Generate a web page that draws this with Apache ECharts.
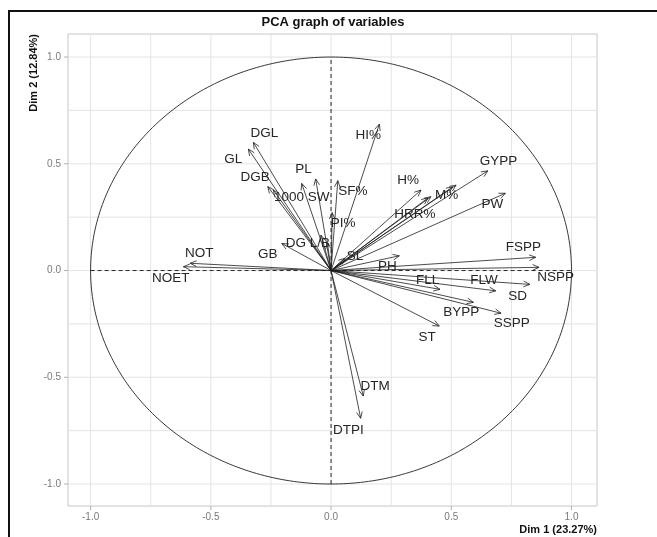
<!DOCTYPE html>
<html><head><meta charset="utf-8">
<script src="https://cdn.jsdelivr.net/npm/echarts@6/dist/echarts.min.js"></script>
<style>html,body{margin:0;padding:0;background:#fff}#c{width:657px;height:537px}</style>
</head><body><div id="c"></div>
<script>
// ---- data ----
const varNames = ['DGL','GL','DGB','1000 SW','PL','','SF%','PI%','DG L/B','','GB','HI%','NOT','NOET',
  'GYPP','PW','M%','','H%','HRR%','','FSPP','NSPP','SD','FLW','FLL','BYPP','SSPP','ST','PH','SL','DTM','DTPI'];
const dim1 = [-0.323,-0.344,-0.263,-0.240,-0.122,-0.064,0.028,0.005,-0.042,-0.015,-0.205,0.201,-0.586,-0.614,
  0.652,0.725,0.520,0.506,0.374,0.415,0.403,0.851,0.865,0.827,0.685,0.453,0.592,0.707,0.450,0.284,0.058,0.134,0.123];
const dim2 = [0.600,0.569,0.393,0.377,0.408,0.429,0.421,0.271,0.166,0.130,0.127,0.686,0.034,0.018,
  0.467,0.362,0.400,0.392,0.377,0.346,0.340,0.062,0.015,-0.065,-0.095,-0.088,-0.149,-0.200,-0.260,0.069,0.058,-0.588,-0.692];

const labelNames = ['DGL','GL','DGB','1000 SW','PL','SF%','PI%','DG L/B','GB','HI%','NOT','NOET',
  'GYPP','PW','M%','H%','HRR%','FSPP','NSPP','SD','FLW','FLL','BYPP','SSPP','ST','PH','SL','DTM','DTPI'];
const labelDim1 = [-0.277,-0.407,-0.316,-0.122,-0.115,0.091,0.050,-0.096,-0.263,0.155,-0.548,-0.667,
  0.696,0.671,0.481,0.321,0.349,0.800,0.934,0.776,0.636,0.402,0.541,0.751,0.400,0.234,0.100,0.183,0.072];
const labelDim2 = [0.645,0.522,0.435,0.343,0.475,0.369,0.222,0.130,0.077,0.635,0.083,-0.034,
  0.514,0.311,0.354,0.424,0.265,0.111,-0.032,-0.119,-0.044,-0.044,-0.196,-0.247,-0.315,0.018,0.068,-0.544,-0.750];

const xGridValues = [-1,-0.75,-0.5,-0.25,0,0.25,0.5,0.75,1];
const yGridValues = [-1,-0.75,-0.5,-0.25,0,0.25,0.5,0.75,1];
const xTickLabels = [-1,-0.5,0,0.5,1];
const yTickLabels = [-1,-0.5,0,0.5,1];
const xRange = [-1.094, 1.106];
const yRange = [-1.103, 1.108];
const titleText = 'PCA graph of variables';
const xName = 'Dim 1 (23.27%)';
const yName = 'Dim 2 (12.84%)';

// ---- chart ----
const chart = echarts.init(document.getElementById('c'), null, {renderer: 'canvas'});
const FONT = '"Liberation Sans", Arial, sans-serif';
const fmt = v => v.toFixed(1);
const isTick = (arr, v) => arr.some(t => Math.abs(t - v) < 1e-9);

function gridX(params, api) {
  const cs = params.coordSys;
  const v = api.value(0);
  const px = api.coord([v, 0])[0];
  const ch = [{type: 'line', shape: {x1: px, y1: cs.y, x2: px, y2: cs.y + cs.height},
    style: {stroke: '#e4e4e4', lineWidth: 1}}];
  if (isTick(xTickLabels, v)) {
    ch.push({type: 'line', shape: {x1: px, y1: cs.y + cs.height, x2: px, y2: cs.y + cs.height + 4},
      style: {stroke: '#b0b0b0', lineWidth: 1}});
    ch.push({type: 'text', x: px, y: cs.y + cs.height + 11,
      style: {text: fmt(v), fill: '#7a7a7a', font: '10px ' + FONT, textAlign: 'center', textVerticalAlign: 'middle'}});
  }
  return {type: 'group', children: ch};
}
function gridY(params, api) {
  const cs = params.coordSys;
  const v = api.value(1);
  const py = api.coord([0, v])[1];
  const ch = [{type: 'line', shape: {x1: cs.x, y1: py, x2: cs.x + cs.width, y2: py},
    style: {stroke: '#e4e4e4', lineWidth: 1}}];
  if (isTick(yTickLabels, v)) {
    ch.push({type: 'line', shape: {x1: cs.x - 4, y1: py, x2: cs.x, y2: py},
      style: {stroke: '#b0b0b0', lineWidth: 1}});
    ch.push({type: 'text', x: cs.x - 7, y: py,
      style: {text: fmt(v), fill: '#7a7a7a', font: '10px ' + FONT, textAlign: 'right', textVerticalAlign: 'middle'}});
  }
  return {type: 'group', children: ch};
}
function circleItem(params, api) {
  const pts = [];
  for (let k = 0; k <= 360; k++) {
    const a = k * Math.PI / 180;
    pts.push(api.coord([Math.cos(a), Math.sin(a)]));
  }
  return {type: 'polyline', shape: {points: pts}, style: {stroke: '#222', lineWidth: 0.9, fill: null}};
}
function arrowItem(params, api) {
  const p0 = api.coord([0, 0]);
  const p1 = api.coord([api.value(0), api.value(1)]);
  const ang = Math.atan2(p1[1] - p0[1], p1[0] - p0[0]);
  const L = 7, a = Math.PI / 7.5;
  const h1 = [p1[0] - L * Math.cos(ang - a), p1[1] - L * Math.sin(ang - a)];
  const h2 = [p1[0] - L * Math.cos(ang + a), p1[1] - L * Math.sin(ang + a)];
  const st = {stroke: '#1e1e1e', lineWidth: 0.8, fill: null};
  return {type: 'group', children: [
    {type: 'line', shape: {x1: p0[0], y1: p0[1], x2: p1[0], y2: p1[1]}, style: st},
    {type: 'polyline', shape: {points: [h1, p1, h2]}, style: st}
  ]};
}
function labelItem(params, api) {
  const p = api.coord([api.value(0), api.value(1)]);
  return {type: 'text', x: p[0], y: p[1],
    style: {text: labelNames[api.value(2)], fill: '#262626', font: '13.5px ' + FONT,
      textAlign: 'center', textVerticalAlign: 'middle'}};
}

const option = {
  animation: false,
  backgroundColor: '#ffffff',
  grid: {left: 68, right: 60, top: 34, bottom: 31, show: true, borderColor: '#c6c6c6', borderWidth: 1,
    backgroundColor: 'transparent'},
  xAxis: {type: 'value', min: xRange[0], max: xRange[1], show: false},
  yAxis: {type: 'value', min: yRange[0], max: yRange[1], show: false},
  graphic: [
    {type: 'rect', shape: {x: 9, y: 11, width: 700, height: 600}, style: {stroke: '#111', lineWidth: 2, fill: null}, z: 100},
    {type: 'text', x: 333, y: 22, style: {text: titleText, font: 'bold 13px ' + FONT, fill: '#111',
      textAlign: 'center', textVerticalAlign: 'middle'}},
    {type: 'text', x: 597, y: 530, style: {text: xName, font: 'bold 11px ' + FONT, fill: '#111',
      textAlign: 'right', textVerticalAlign: 'middle'}},
    {type: 'text', x: 34, y: 34, rotation: Math.PI / 2, style: {text: yName, font: 'bold 11px ' + FONT, fill: '#111',
      textAlign: 'right', textVerticalAlign: 'middle'}}
  ],
  series: [
    {type: 'custom', z: 1, renderItem: gridX, data: xGridValues.map(v => [v, 0]), silent: true},
    {type: 'custom', z: 1, renderItem: gridY, data: yGridValues.map(v => [0, v]), silent: true},
    {type: 'line', z: 3, data: [[-1, 0], [1, 0]], symbol: 'none', silent: true,
      lineStyle: {color: '#111', width: 0.9, type: [4, 3]}},
    {type: 'line', z: 3, data: [[0, -1], [0, 1]], symbol: 'none', silent: true,
      lineStyle: {color: '#111', width: 0.9, type: [4, 3]}},
    {type: 'custom', z: 3, renderItem: circleItem, data: [[0, 0]], silent: true},
    {type: 'custom', z: 4, renderItem: arrowItem, data: dim1.map((v, i) => [v, dim2[i]]), silent: true},
    {type: 'custom', z: 5, renderItem: labelItem, data: labelDim1.map((v, i) => [v, labelDim2[i], i]), silent: true}
  ]
};
chart.setOption(option);
</script>
</body></html>
